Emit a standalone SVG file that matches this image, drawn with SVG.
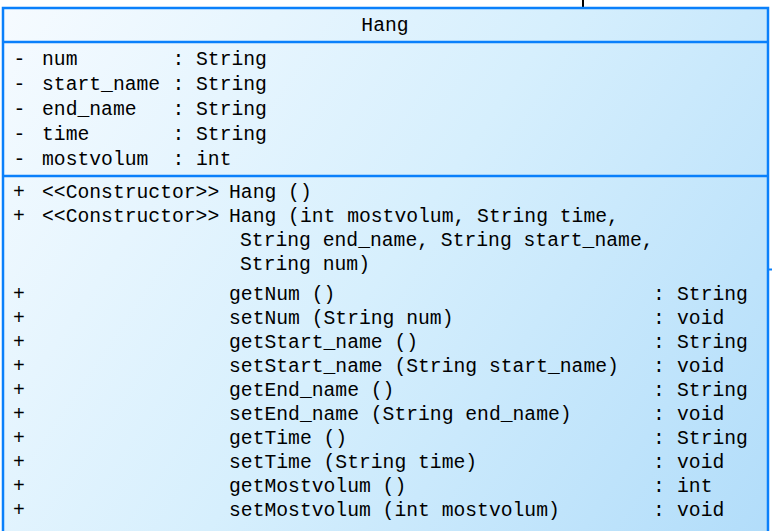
<svg xmlns="http://www.w3.org/2000/svg" width="772" height="531" viewBox="0 0 772 531">
<defs>
<linearGradient id="fill" gradientUnits="userSpaceOnUse" x1="3" y1="8" x2="768" y2="531">
<stop offset="0" stop-color="#f6fbff"/>
<stop offset="0.5" stop-color="#d6effd"/>
<stop offset="1" stop-color="#b2ddfa"/>
</linearGradient>
</defs>
<style>
text{font-family:"Liberation Mono","DejaVu Sans Mono",monospace;font-size:19.7px;fill:#000}
.c{text-anchor:middle}
.bd{fill:none;stroke:#0a80fb;stroke-width:2.5}
.cn{stroke:#000;stroke-width:2;fill:none}
.cb{stroke:#0a80fb;stroke-width:2;fill:none}
</style>
<g id="connectors">
<line class="cn" x1="583" y1="0" x2="583" y2="8"/>
<line class="cb" x1="768" y1="269.5" x2="772" y2="269.5"/>
</g>
<g id="Hang">
<rect x="3" y="8" width="765" height="540" fill="url(#fill)"/>
<path class="bd" d="M3,540 V8 H768 V540 M3,42 H768 M3,176 H768"/>
<text class="c" x="385" y="31">Hang</text>
<g id="attributes">
<text class="c" x="19.5" y="65">-</text><text x="42" y="65">num</text><text class="c" x="178.5" y="65">:</text><text x="196" y="65">String</text>
<text class="c" x="19.5" y="90">-</text><text x="42" y="90">start_name</text><text class="c" x="178.5" y="90">:</text><text x="196" y="90">String</text>
<text class="c" x="19.5" y="115">-</text><text x="42" y="115">end_name</text><text class="c" x="178.5" y="115">:</text><text x="196" y="115">String</text>
<text class="c" x="19.5" y="140">-</text><text x="42" y="140">time</text><text class="c" x="178.5" y="140">:</text><text x="196" y="140">String</text>
<text class="c" x="19.5" y="165">-</text><text x="42" y="165">mostvolum</text><text class="c" x="178.5" y="165">:</text><text x="196" y="165">int</text>
</g>
<g id="operations">
<text class="c" x="19" y="198">+</text><text x="42" y="198">&lt;&lt;Constructor&gt;&gt;</text><text x="229" y="198">Hang ()</text>
<text class="c" x="19" y="222">+</text><text x="42" y="222">&lt;&lt;Constructor&gt;&gt;</text><text x="229" y="222">Hang (int mostvolum, String time,</text>
<text x="240" y="246">String end_name, String start_name,</text>
<text x="240" y="270">String num)</text>
<text class="c" x="19" y="300">+</text><text x="229" y="300">getNum ()</text><text class="c" x="659" y="300">:</text><text x="677" y="300">String</text>
<text class="c" x="19" y="324">+</text><text x="229" y="324">setNum (String num)</text><text class="c" x="659" y="324">:</text><text x="677" y="324">void</text>
<text class="c" x="19" y="348">+</text><text x="229" y="348">getStart_name ()</text><text class="c" x="659" y="348">:</text><text x="677" y="348">String</text>
<text class="c" x="19" y="372">+</text><text x="229" y="372">setStart_name (String start_name)</text><text class="c" x="659" y="372">:</text><text x="677" y="372">void</text>
<text class="c" x="19" y="396">+</text><text x="229" y="396">getEnd_name ()</text><text class="c" x="659" y="396">:</text><text x="677" y="396">String</text>
<text class="c" x="19" y="420">+</text><text x="229" y="420">setEnd_name (String end_name)</text><text class="c" x="659" y="420">:</text><text x="677" y="420">void</text>
<text class="c" x="19" y="444">+</text><text x="229" y="444">getTime ()</text><text class="c" x="659" y="444">:</text><text x="677" y="444">String</text>
<text class="c" x="19" y="468">+</text><text x="229" y="468">setTime (String time)</text><text class="c" x="659" y="468">:</text><text x="677" y="468">void</text>
<text class="c" x="19" y="492">+</text><text x="229" y="492">getMostvolum ()</text><text class="c" x="659" y="492">:</text><text x="677" y="492">int</text>
<text class="c" x="19" y="516">+</text><text x="229" y="516">setMostvolum (int mostvolum)</text><text class="c" x="659" y="516">:</text><text x="677" y="516">void</text>
</g>
</g>
</svg>
